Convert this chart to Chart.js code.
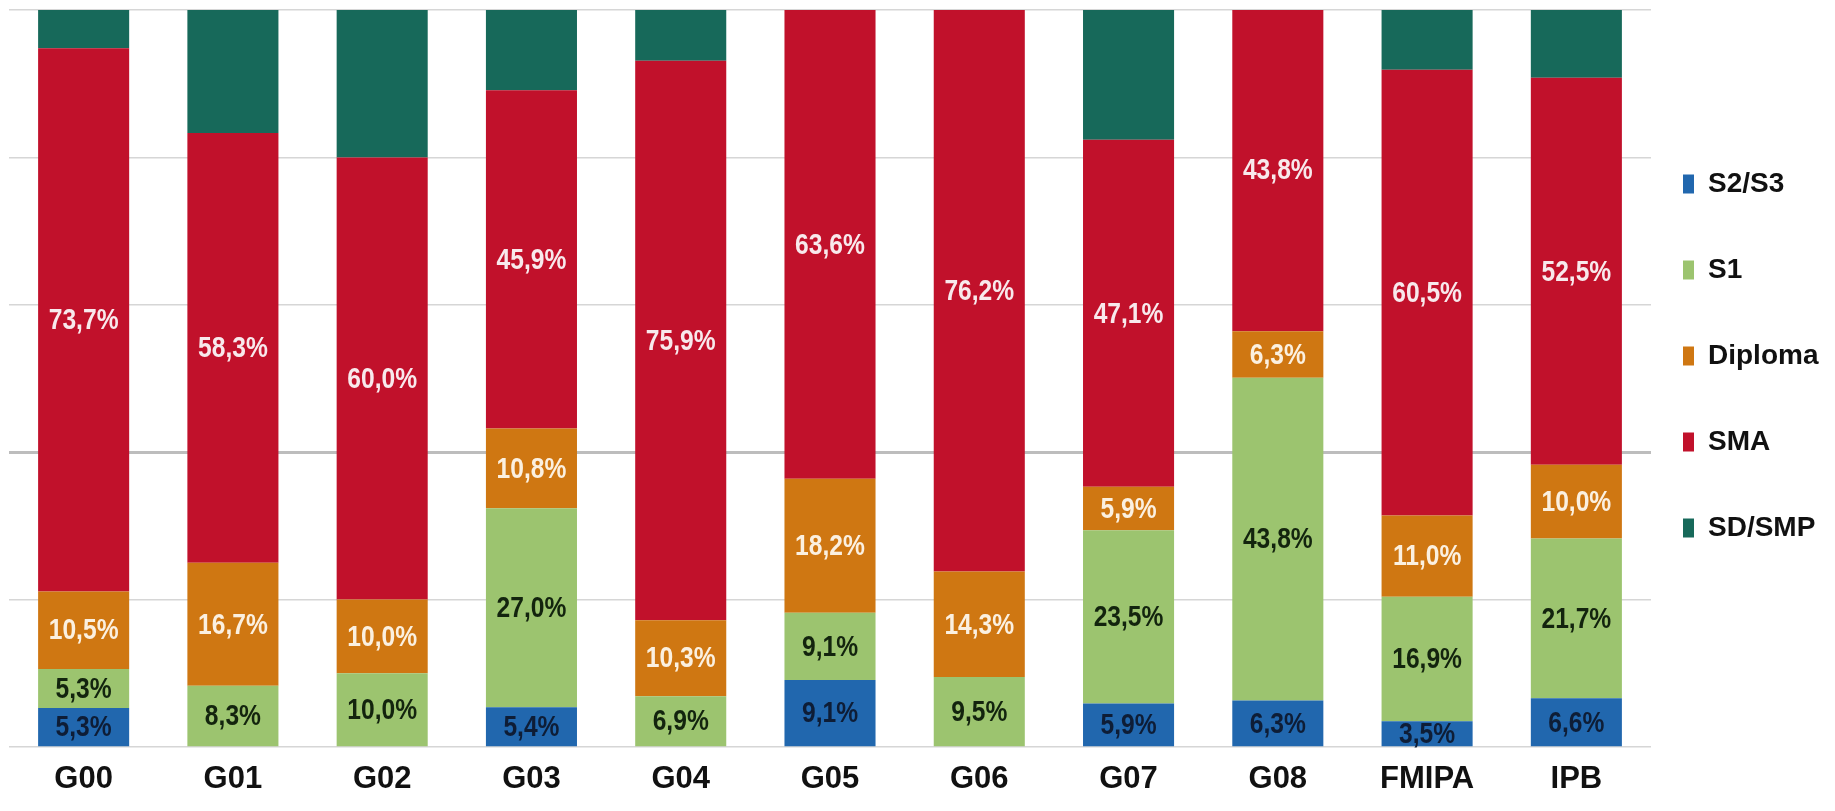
<!DOCTYPE html>
<html>
<head>
<meta charset="utf-8">
<script src="https://cdn.jsdelivr.net/npm/chart.js@4/dist/chart.umd.min.js"></script>
<style>
  html, body { margin: 0; padding: 0; background: #ffffff; overflow: hidden; }
  canvas { display: block; }
</style>
</head>
<body>
<canvas id="graph-edu" width="1835" height="811"></canvas>
<script>
// ** DATA: ** //

var categories = ['G00', 'G01', 'G02', 'G03', 'G04', 'G05', 'G06', 'G07', 'G08', 'FMIPA', 'IPB'];

var s2s3   = [5.3, 0,    0,    5.4,  0,    9.1,  0,    5.9,  6.3,  3.5,  6.6];
var s1     = [5.3, 8.3,  10.0, 27.0, 6.9,  9.1,  9.5,  23.5, 43.8, 16.9, 21.7];
var diploma= [10.5, 16.7, 10.0, 10.8, 10.3, 18.2, 14.3, 5.9,  6.3,  11.0, 10.0];
var sma    = [73.7, 58.3, 60.0, 45.9, 75.9, 63.6, 76.2, 47.1, 43.8, 60.5, 52.5];
var sdSmp  = [5.2, 16.7, 20.0, 10.9, 6.9,  0,    0,    17.6, 0,    8.1,  9.2];

var yTicks = [0, 20, 40, 60, 80, 100];

// ** FUNCTIONS: ** //

var FONT = '"Liberation Sans", Arial, sans-serif';

function formatPct(v){
	return v.toFixed(1).replace('.', ',') + '%';
}

function makeDataset(label, data, color, labelColor){
	return {
		label: label,
		data: data,
		backgroundColor: color,
		borderWidth: 0,
		barPercentage: 0.61,
		categoryPercentage: 1.0,
		labelColor: labelColor
	};
}

// writes the value in the middle of each segment (squeezed a bit, like a narrow font)
var barLabels = {
	id: 'barLabels',
	afterDatasetsDraw: function(chart){
		var ctx = chart.ctx;
		chart.data.datasets.forEach(function(ds, i){
			if (!ds.labelColor) return;
			chart.getDatasetMeta(i).data.forEach(function(bar, j){
				var v = ds.data[j];
				if (!v) return;
				var p = bar.getProps(['x', 'y', 'base'], true);
				ctx.save();
				ctx.translate(p.x, (p.y + p.base) / 2 + 1);
				ctx.scale(0.82, 1);
				ctx.font = 'bold 30px ' + FONT;
				ctx.textAlign = 'center';
				ctx.textBaseline = 'middle';
				ctx.fillStyle = ds.labelColor;
				ctx.fillText(formatPct(v), 0, 0);
				ctx.restore();
			});
		});
	}
};

// pull the legend a bit closer to the plot
var legendNudge = {
	id: 'legendNudge',
	afterLayout: function(chart){
		if (chart.legend) {
			chart.legend.left -= 26;
		}
	}
};

function generateGraph(graphID){
	var graph = document.getElementById(graphID);
	if (!graph) return;

	new Chart(graph, {
		type: 'bar',
		data: {
			labels: categories,
			datasets: [
				makeDataset('S2/S3', s2s3, '#2167ae', '#0e1d36'),
				makeDataset('S1', s1, '#9cc46f', '#13240e'),
				makeDataset('Diploma', diploma, '#cf7712', '#fbf0e0'),
				makeDataset('SMA', sma, '#c1112b', '#f8e9ec'),
				makeDataset('SD/SMP', sdSmp, '#17695a', null)
			]
		},
		options: {
			responsive: false,
			animation: false,
			layout: { padding: { left: 9, right: 0, top: 10, bottom: 0 } },
			plugins: {
				tooltip: { enabled: false },
				legend: {
					position: 'right',
					align: 'start',
					maxWidth: 184,
					title: { display: true, text: '', font: { size: 10, lineHeight: 1 }, padding: { top: 0, bottom: 92 } },
					labels: {
						boxWidth: 11,
						boxHeight: 19,
						padding: 58,
						color: '#111111',
						font: { family: FONT, size: 28, weight: 'bold' }
					}
				}
			},
			scales: {
				x: {
					stacked: true,
					grid: { display: false, drawTicks: false },
					border: { display: false },
					ticks: {
						color: '#111111',
						padding: 13.4,
						maxRotation: 0,
						font: { family: FONT, size: 31, weight: 'bold', lineHeight: 1.2 }
					}
				},
				y: {
					stacked: true,
					min: yTicks[0],
					max: yTicks[yTicks.length - 1],
					afterBuildTicks: function(scale){
						scale.ticks = yTicks.map(function(v){ return { value: v }; });
					},
					border: { display: false },
					ticks: { display: false },
					grid: {
						drawTicks: false,
						color: function(c){ return c.tick && c.tick.value === 40 ? '#bdbdbd' : '#d6d6d6'; },
						lineWidth: function(c){ return c.tick && c.tick.value === 40 ? 3 : 1.5; }
					}
				}
			}
		},
		plugins: [barLabels, legendNudge]
	});
}

// ** ENTRY POINT: ** //

generateGraph('graph-edu');
</script>
</body>
</html>
